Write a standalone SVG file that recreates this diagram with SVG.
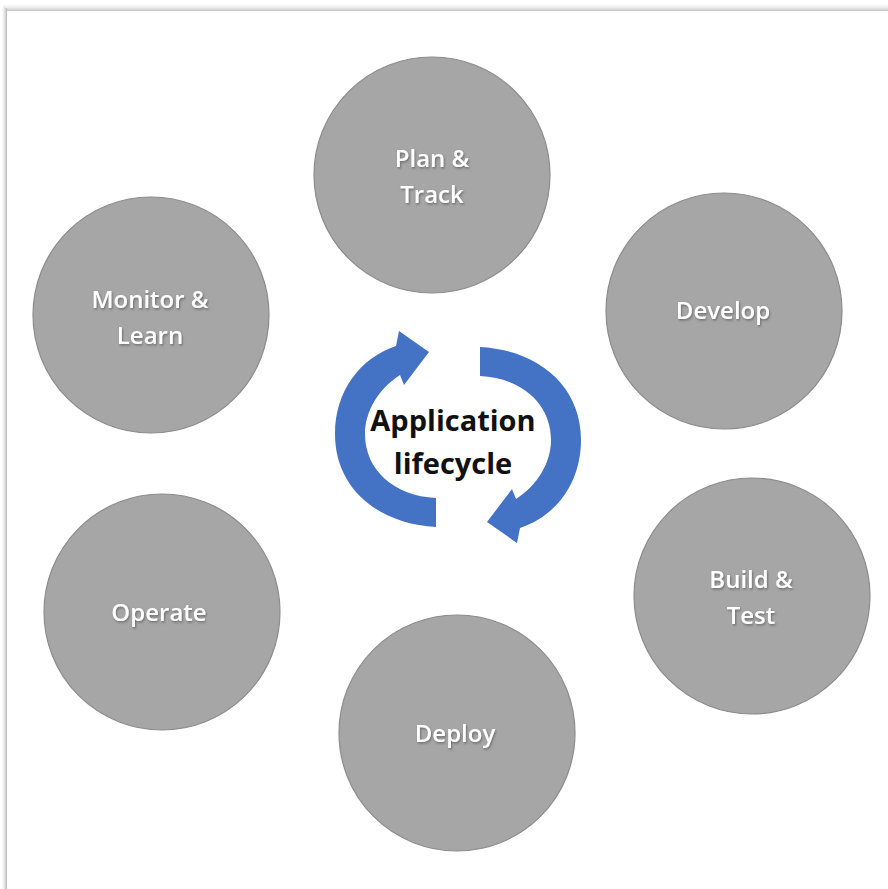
<svg xmlns="http://www.w3.org/2000/svg" width="888" height="889" viewBox="0 0 888 889">
  <defs>
    <linearGradient id="gTop" x1="0" y1="0" x2="0" y2="1">
      <stop offset="0" stop-color="#ffffff"/>
      <stop offset="0.5" stop-color="#ececec"/>
      <stop offset="1" stop-color="#c4c4c4"/>
    </linearGradient>
    <linearGradient id="gLeft" x1="0" y1="0" x2="1" y2="0">
      <stop offset="0" stop-color="#ffffff"/>
      <stop offset="0.5" stop-color="#e4e4e4"/>
      <stop offset="1" stop-color="#b8b8b8"/>
    </linearGradient>
    <filter id="ts" x="-20%" y="-40%" width="140%" height="180%">
      <feDropShadow dx="1" dy="1.5" stdDeviation="1" flood-color="#555555" flood-opacity="0.7"/>
    </filter>
    <style>
      .node circle { fill: #a6a6a6; stroke: #8c8c8c; stroke-width: 1.2; }
      .node text { fill: #ffffff; font-family: "Open Sans", "Liberation Sans", sans-serif; font-weight: 600; font-size: 24px; text-anchor: middle; filter: url(#ts); }
      .arrow { fill: #4472c4; }
      .center { fill: #111111; font-family: "Open Sans", "Liberation Sans", sans-serif; font-weight: 700; font-size: 29px; text-anchor: middle; }
    </style>
  </defs>
  <rect x="0" y="0" width="888" height="889" fill="#ffffff"/>
  <g id="frame">
    <rect x="3" y="4" width="885" height="7" fill="url(#gTop)"/>
    <rect x="2" y="8" width="5" height="881" fill="url(#gLeft)"/>
  </g>

  <g id="plan-track" class="node">
    <circle cx="432" cy="175" r="118"/>
    <text x="432" y="167">Plan &amp;</text>
    <text x="432" y="203">Track</text>
  </g>
  <g id="develop" class="node">
    <circle cx="724" cy="311" r="118"/>
    <text x="723" y="319">Develop</text>
  </g>
  <g id="build-test" class="node">
    <circle cx="752" cy="596" r="118"/>
    <text x="751" y="588">Build &amp;</text>
    <text x="751" y="624">Test</text>
  </g>
  <g id="deploy" class="node">
    <circle cx="457" cy="733" r="118"/>
    <text x="455" y="742">Deploy</text>
  </g>
  <g id="operate" class="node">
    <circle cx="162" cy="612" r="118"/>
    <text x="159" y="621">Operate</text>
  </g>
  <g id="monitor-learn" class="node">
    <circle cx="151" cy="315" r="118"/>
    <text x="150" y="308">Monitor &amp;</text>
    <text x="150" y="344">Learn</text>
  </g>

  <g id="connectors">
    <path id="arrow-right" class="arrow" d="M 480 347 C 537 350, 581 385, 581 440 C 581 483, 556 516, 520 528 L 517 543 L 487 522 L 512 489 L 516 499 C 538 485, 551 462, 551 440 C 551 404, 522 378, 480 376 Z"/>
    <path id="arrow-left" class="arrow" transform="rotate(180 458 437)" d="M 480 347 C 537 350, 581 385, 581 440 C 581 483, 556 516, 520 528 L 517 543 L 487 522 L 512 489 L 516 499 C 538 485, 551 462, 551 440 C 551 404, 522 378, 480 376 Z"/>
  </g>

  <g id="center-label">
    <text class="center" x="453" y="431">Application</text>
    <text class="center" x="453" y="474">lifecycle</text>
  </g>
</svg>
